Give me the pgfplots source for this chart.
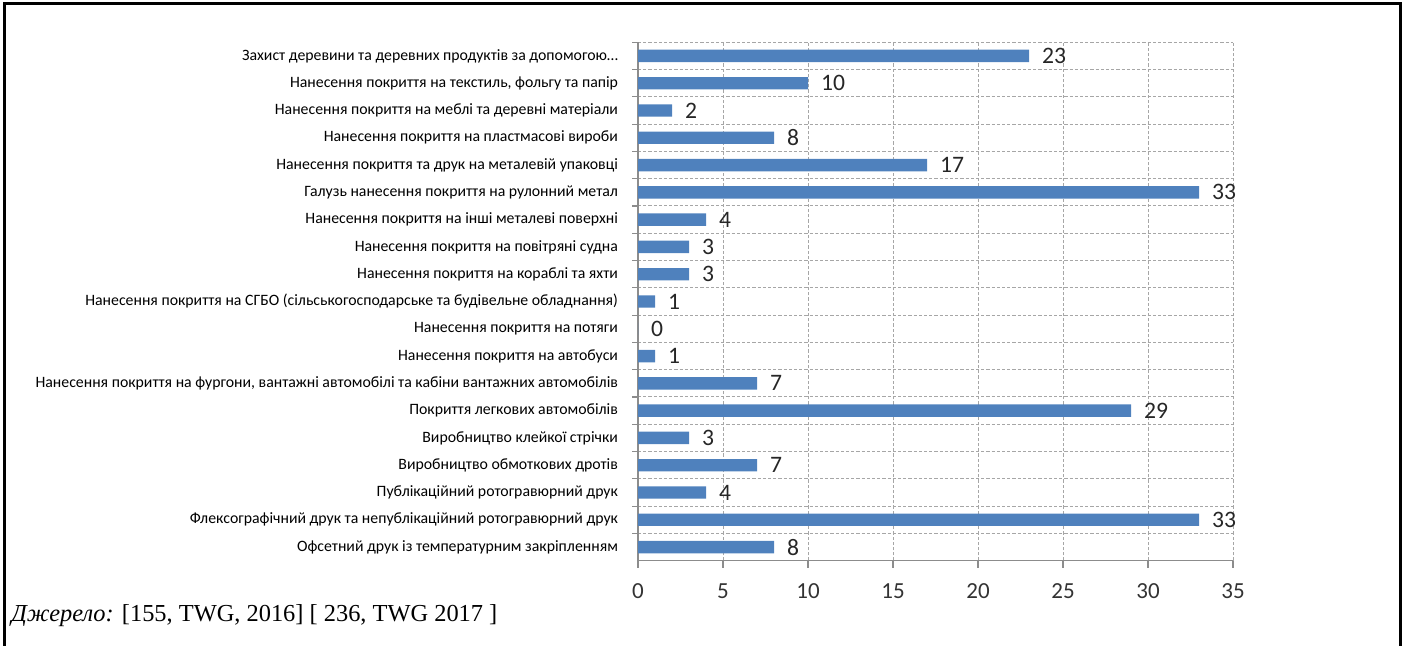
\documentclass[border=0pt]{standalone}
\usepackage{fontspec}
\setmainfont{Carlito}
\newfontfamily\timesfont{Liberation Serif}
\usepackage{pgfplots}
\pgfplotsset{compat=1.18}
\definecolor{barblue}{HTML}{4F81BD}
\definecolor{gridgray}{HTML}{A6A6A6}
\definecolor{axisgray}{HTML}{8C8C8C}
\begin{document}
\begin{tikzpicture}
\useasboundingbox (0,0) rectangle (703pt,323pt);
\draw[line width=1.5pt] (2.2pt,0) -- (2.2pt,321pt) -- (700pt,321pt) -- (700pt,0);
\begin{axis}[
  at={(319pt,42.65pt)}, anchor=south west,
  scale only axis, width=297.5pt, height=259.2pt,
  xbar, bar width=6.2pt,
  xmin=0, xmax=35, ymin=-0.5, ymax=18.5,
  xtick={0,5,...,35},
  ytick={0,...,18},
  minor ytick={0.5,1.5,...,18.5},
  yticklabels={
    Офсетний друк із температурним закріпленням,
    Флексографічний друк та непублікаційний ротогравюрний друк,
    Публікаційний ротогравюрний друк,
    Виробництво обмоткових дротів,
    Виробництво клейкої стрічки,
    Покриття легкових автомобілів,
    {Нанесення покриття на фургони, вантажні автомобілі та кабіни вантажних автомобілів},
    Нанесення покриття на автобуси,
    Нанесення покриття на потяги,
    Нанесення покриття на СГБО (сільськогосподарське та будівельне обладнання),
    Нанесення покриття на кораблі та яхти,
    Нанесення покриття на повітряні судна,
    Нанесення покриття на інші металеві поверхні,
    Галузь нанесення покриття на рулонний метал,
    Нанесення покриття та друк на металевій упаковці,
    Нанесення покриття на пластмасові вироби,
    Нанесення покриття на меблі та деревні матеріали,
    {Нанесення покриття на текстиль, фольгу та папір},
    {Захист деревини та деревних продуктів за допомогою\ldots}
  },
  axis x line*=bottom, axis y line*=left,
  axis line style={axisgray, line width=0.6pt, -},
  xmajorgrids, yminorgrids,
  major grid style={gridgray, dash pattern=on 1.6pt off 1pt, line width=0.5pt},
  minor grid style={gridgray, dash pattern=on 1.6pt off 1pt, line width=0.5pt},
  major x tick style={axisgray, line width=0.6pt},
  major y tick style={draw=none},
  minor y tick style={axisgray, line width=0.6pt},
  xtick align=outside, ytick align=outside,
  major tick length=3.5pt, minor tick length=3pt,
  /pgf/number format/assume math mode=true,
  xticklabel style={font=\fontsize{11.5}{13}\selectfont, text=black!80, yshift=-4.5pt},
  yticklabel style={font=\fontsize{7.9}{9}\selectfont, text=black, xshift=-3pt},
  nodes near coords,
  nodes near coords style={font=\fontsize{11.8}{14}\selectfont, text=black!85, anchor=west, xshift=3pt},
]
\addplot[fill=barblue, draw=none] coordinates {
  (8,0) (33,1) (4,2) (7,3) (3,4) (29,5) (7,6) (1,7) (0,8) (1,9)
  (3,10) (3,11) (4,12) (33,13) (17,14) (8,15) (2,16) (10,17) (23,18)
};
\end{axis}
\node[anchor=base west, inner sep=0pt, font=\timesfont\fontsize{12.2}{14}\selectfont] at (5.5pt,12pt) {\textit{Джерело:} [155, TWG, 2016] [ 236, TWG 2017 ]};
\end{tikzpicture}
\end{document}
